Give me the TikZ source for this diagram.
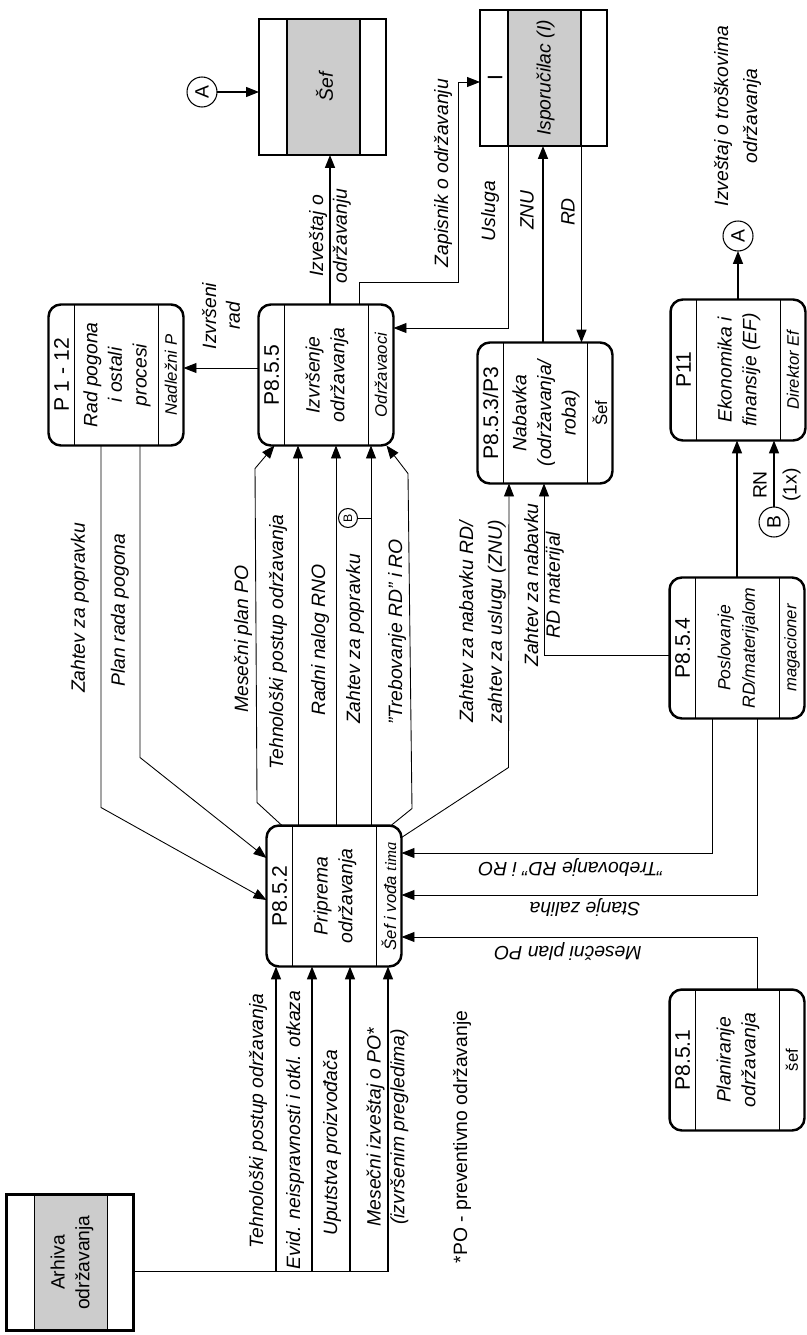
\documentclass[tikz,border=0pt]{standalone}
\usepackage{fontspec}
\setmainfont{Liberation Sans}
\newfontfamily\timafont{Liberation Serif}
\usetikzlibrary{arrows.meta}
\definecolor{entgray}{RGB}{204,204,204}

\begin{document}
\begin{tikzpicture}[x=0.02cm, y=-0.02cm,
  every node/.append style={inner sep=0pt, outer sep=0pt},
  procbox/.style={draw, line width=1.4pt, rounded corners=7pt, minimum width=2.7cm, minimum height=2.82cm},
  entbox/.style={minimum width=2.54cm, minimum height=2.72cm},
  divider/.style={line width=1pt},
  idtext/.style={rotate=90, font=\fontsize{12}{14}\selectfont},
  ttext/.style={rotate=90, align=center, font=\fontsize{11}{14}\selectfont\itshape},
  rtext/.style={rotate=90, font=\fontsize{9.5}{11}\selectfont\itshape},
  lbltext/.style={align=center, font=\fontsize{11}{13.5}\selectfont\itshape},
  lbl/.style={lbltext, rotate=90},
  lblflip/.style={lbltext, rotate=180},
  conn/.style={circle, draw, line width=0.6pt, minimum size=0.6cm, font=\fontsize{11}{13}\selectfont},
  flow/.style={line width=0.5pt, -{Triangle[length=2.6mm, width=2mm]}},
  flowthick/.style={flow, line width=0.9pt}
]
  \useasboundingbox (0,0) rectangle (807,1335);

  % processes
  \foreach \nm/\x/\y/\pid/\ptitle/\prole/\tfs in {
      p112/116/375/{P 1 - 12}/{Rad pogona\\i ostali\\procesi}/{Nadležni P}/11,
      p855/326/375/{P8.5.5}/{Izvršenje\\održavanja}/{Održavaoci}/11,
      p853/545/413/{P8.5.3/P3}/{Nabavka\\(održavanja/\\roba)}/{\upshape Šef}/11,
      p11/738/370/{P11}/{Ekonomika i\\finansije (EF)}/{Direktor Ef}/11,
      p854/737/648/{P8.5.4}/{Poslovanje\\RD/materijalom}/{magacioner}/10,
      p852/334/896/{P8.5.2}/{Priprema\\održavanja}/{Šef i vođa {\timafont\itshape tima}}/11,
      p851/737/1060/{P8.5.1}/{Planiranje\\održavanja}/{\upshape šef}/11}{
    \node[procbox] (\nm) at (\x,\y) {};
    \draw[divider] ([xshift=0.52cm]\nm.north west) -- ([xshift=0.52cm]\nm.south west)
                   ([xshift=-0.5cm]\nm.north east) -- ([xshift=-0.5cm]\nm.south east);
    \node[idtext] (\nm-id) at ([xshift=-1.09cm]\nm.center) {\pid};
    \node[ttext, font=\fontsize{\tfs}{14}\selectfont\itshape] (\nm-t) at ([xshift=0.02cm]\nm.center) {\ptitle};
    \node[rtext] (\nm-r) at ([xshift=1.1cm]\nm.center) {\prole};
  }

  % external entities
  \foreach \nm/\x/\y/\etext in {sef/322.5/87/{Šef}, isp/543.5/78/{Isporučilac (I)},
      arh/70/1262.5/{\upshape Arhiva\\\upshape održavanja}}{
    \node[entbox] (\nm) at (\x,\y) {};
    \fill[entgray] ([xshift=0.56cm]\nm.north west) rectangle ([xshift=-0.52cm]\nm.south east);
    \draw[divider] ([xshift=0.56cm]\nm.north west) -- ([xshift=0.56cm]\nm.south west)
                   ([xshift=-0.52cm]\nm.north east) -- ([xshift=-0.52cm]\nm.south east);
    \draw[line width=1.4pt] (\nm.north west) rectangle (\nm.south east);
    \node[ttext] (\nm-t) at ([xshift=0.04cm]\nm.center) {\etext};
  }
  \node[idtext] (isp-id) at ([xshift=-0.97cm]isp.center) {I};

  % connectors
  \node[conn] (a1) at (202,92) {\rotatebox{90}{A}};
  \node[conn] (a2) at (738,236) {\rotatebox{90}{A}};
  \node[conn] (b2) at (774,522) {\rotatebox{90}{B}};
  \node[conn, minimum size=0.38cm, font=\fontsize{7}{8}\selectfont] (b1) at (348,518) {\rotatebox{90}{B}};

  % P8.5.5 outputs
  \coordinate (izv) at ([xshift=0.08cm]p855.north);
  \draw[flowthick] (izv) -- (izv |- sef.south);
  \draw[flow, line width=0.6pt] (a1) -- (a1 -| sef.west);
  \draw[flow] ([yshift=0.14cm]p855.west) -- ([yshift=0.14cm]p112.east);
  \draw[flow] ([xshift=0.66cm]p855.north) -- ++(0,-22) -- ++(99,0) |- ([yshift=-0.08cm]isp.west);

  % supplier
  \coordinate (usl) at ([xshift=-0.7cm]isp.south);
  \draw[flow] (usl) |- ([yshift=0.94cm]p855.east);
  \coordinate (znu) at ([xshift=-0.04cm]p853.north);
  \draw[flowthick] (znu) -- (znu |- isp.south);
  \coordinate (rd) at ([xshift=0.76cm]isp.south);
  \draw[flowthick] (rd) -- (rd |- p853.north);

  % P 1-12 into P8.5.2
  \draw[flow] ([xshift=-0.3cm]p112.south) -- ++(0,362) -- ([yshift=-0.08cm]p852.west);
  \draw[flow] ([xshift=0.48cm]p112.south) -- ++(0,312) -- ([yshift=0.76cm]p852.west);

  % P8.5.2 into P8.5.5
  \draw[flow] ([xshift=-1.04cm]p852.north) -- ++(-25,-23) -- ++(-2,-334) -- ([xshift=0.32cm]p855.south west);
  \foreach \dx/\nm in {-0.72/teh, 0.04/rno, 0.74/zpop}{
    \coordinate (\nm) at ([xshift=\dx cm]p852.north);
    \draw[flow] (\nm) -- (\nm |- p855.south);
  }
  \draw[flow] ([xshift=1.14cm]p852.north) -- ++(21,-17) -- ++(-4,-335) -- ([xshift=-0.14cm]p855.south east);
  \draw[line width=0.5pt] (b1.east) -- (b1.east -| zpop);

  % into Nabavka
  \coordinate (nz) at ([xshift=-0.72cm]p853.south);
  \draw[flow] ([yshift=-0.24cm]p852.north east) -- ++(107,-70) -- (nz);
  \coordinate (nm) at ([xshift=-0.02cm]p853.south);
  \draw[flow] ([yshift=-0.14cm]p854.west) -| (nm);

  % right side into P8.5.2
  \coordinate (tr) at ([xshift=-0.49cm]p854.south);
  \draw[flow] (tr) |- ([yshift=0.86cm]p852.east);
  \coordinate (sz) at ([xshift=0.4cm]p854.south);
  \draw[flow] (sz) |- ([yshift=0.02cm]p852.east);
  \coordinate (mp) at ([xshift=0.4cm]p851.north);
  \draw[flow] (mp) |- ([yshift=-0.82cm]p852.east);

  % archive into P8.5.2
  \coordinate (abus) at ([yshift=-0.18cm]arh.east);
  \foreach \dx [count=\i] in {-1.16, -0.44, 0.32, 1.08}
    \coordinate (in\i) at ([xshift=\dx cm]p852.south);
  \draw[line width=0.5pt] (abus) -- (abus -| in4);
  \foreach \i in {1,...,4}
    \draw[flowthick] (abus -| in\i) -- (in\i);

  % economics
  \draw[flowthick] (p854.north) -- (p854.north |- p11.south);
  \draw[flowthick] (b2.north) -- (b2.north |- p11.south);
  \draw[flowthick] (p11.north) -- (a2.south);

  % labels
  \node[lbl] (lizv) at (330,236) {Izveštaj o\\održavanju};
  \node[lbl] (lizr) at (221,316) {Izvršeni\\rad};
  \node[lbl] (lzap) at (443,173) {Zapisnik o održavanju};
  \node[lbl] (lusl) at (490,211) {Usluga};
  \node[lbl] (lznu) at (527,210) {ZNU};
  \node[lbl] (lrd) at (568,212) {RD};
  \node[lbl] (ltros) at (737.5,116) {Izveštaj o troškovima\\[3pt]održavanja};
  \node[lbl, font=\fontsize{11}{13.5}\selectfont] (lrn) at (777,485) {RN\\[3.5pt](1x)};
  \node[lbl] (lzpop1) at (80,608) {Zahtev za popravku};
  \node[lbl] (lplan) at (120,610) {Plan rada pogona};
  \node[lbl] (lmpp1) at (243,639) {Mesečni plan PO};
  \node[lbl] (lteh1) at (278,642) {Tehnološki postup održavanja};
  \node[lbl] (lrno) at (320,640) {Radni nalog RNO};
  \node[lbl] (lzpop2) at (355,639) {Zahtev za popravku};
  \node[lbl] (ltreb1) at (397,632) {"Trebovanje RD" i RO};
  \node[lbl] (lznab) at (482.5,622) {Zahtev za nabavku RD/\\[3pt]zahtev za uslugu (ZNU)};
  \node[lbl] (lrdm) at (544,585) {Zahtev za nabavku\\[-1pt]RD materijal};
  \node[lblflip] (ltreb2) at (571,867) {"Trebovanje RD" i RO};
  \node[lblflip] (lstz) at (585,907) {Stanje zaliha};
  \node[lblflip] (lmpp2) at (568,952) {Mesečni plan PO};
  \node[lbl] (lteh2) at (258,1121) {Tehnološki postup održavanja};
  \node[lbl] (levid) at (295,1130) {Evid. neispravnosti i otkl. otkaza};
  \node[lbl] (luput) at (332,1143) {Uputstva proizvođača};
  \node[lbl] (lmes) at (387.5,1127) {Mesečni izveštaj o PO*\\(izvršenim pregledima)};
  \node[lbl, font=\fontsize{11}{13.5}\selectfont] (lnote) at (462,1137) {*PO - preventivno održavanje};
\end{tikzpicture}
\end{document}
